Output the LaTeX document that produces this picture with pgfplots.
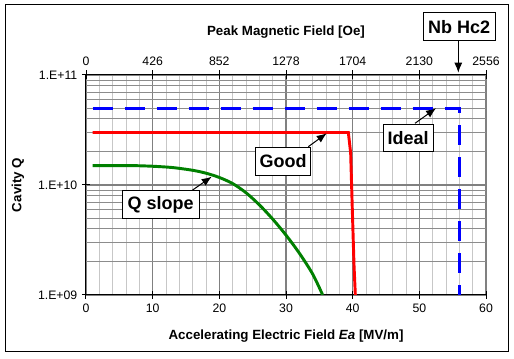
\documentclass[border=0pt]{standalone}
\usepackage{fontspec}
\setmainfont{Liberation Sans}
\usepackage{pgfplots}
\pgfplotsset{compat=1.18}
\usetikzlibrary{arrows.meta}
\begin{document}
\begin{tikzpicture}
\path[use as bounding box] (0,0) rectangle (385.5pt,269.25pt);
\fill[white] (0,0) rectangle (385.5pt,269.25pt);
\draw[line width=0.75pt] (3.75pt,5.25pt) rectangle (381pt,265.5pt);

\begin{axis}[
  at={(64.5pt,48pt)}, anchor=south west,
  scale only axis, width=300pt, height=165pt,
  xmin=0, xmax=60, ymin=1e9, ymax=1e11, ymode=log,
  xtick={0,10,...,60}, minor x tick num=4,
  ytick={1e9,1e10,1e11}, yticklabels={1.E+09,1.E+10,1.E+11},
  grid=both,
  major grid style={color=black!50, line width=0.9pt},
  minor x grid style={color=black!22, line width=0.6pt},
  minor y grid style={color=black!45, line width=0.6pt},
  axis x line*=bottom, axis y line*=left,
  axis line style={-, black, line width=0.75pt},
  tick align=center, major tick length=6pt, minor tick length=0pt,
  tick style={black, line width=0.75pt},
  ticklabel style={font=\fontsize{9.2}{11}\selectfont},
  /pgf/number format/assume math mode=true,
  xlabel={\bfseries Accelerating Electric Field \textit{Ea} [MV/m]},
  xlabel style={at={(axis description cs:0.5,-0.186)}, anchor=center, font=\fontsize{10}{12}\selectfont},
  ylabel={\bfseries Cavity Q},
  ylabel style={at={(axis description cs:-0.17,0.5)}, anchor=center, font=\fontsize{10}{12}\selectfont},
  clip=true,
]
\addplot[blue, line width=2.2pt, dash pattern=on 15pt off 9pt] coordinates {
  (1,5e10) (56,5e10) (56,1e9)
};
\addplot[red, line width=2.2pt] coordinates {
  (1,3e10) (39.35,3e10) (39.5,2.5e10) (39.7,1.95e10) (39.95,5.9e9) (40.2,1.87e9) (40.4,1e9)
};
\addplot[color={rgb,255:red,0;green,128;blue,0}, line width=2.2pt, smooth, tension=0.5] coordinates {
  (1,1.5e10) (4,1.5e10) (7,1.5e10) (10,1.48e10) (13,1.44e10) (16,1.36e10)
  (18,1.28e10) (20,1.17e10) (22,1.03e10) (24,8.5e9) (26,6.6e9) (28,4.9e9)
  (30,3.5e9) (32,2.4e9) (34,1.55e9) (35.5,1e9)
};
\end{axis}

\begin{axis}[
  at={(64.5pt,48pt)}, anchor=south west,
  scale only axis, width=300pt, height=165pt,
  xmin=0, xmax=2556, ymin=1e9, ymax=1e11, ymode=log,
  axis x line*=top, axis y line=none,
  axis line style={-, black, line width=0.75pt},
  xtick={0,426,852,1278,1704,2130,2556},
  xticklabels={0,426,852,1278,1704,2130,2556},
  scaled x ticks=false,
  tick align=center, major tick length=6.75pt, minor tick length=0pt,
  tick style={black, line width=0.75pt},
  ticklabel style={font=\fontsize{9.2}{11}\selectfont},
  /pgf/number format/assume math mode=true,
  xlabel={\bfseries Peak Magnetic Field [Oe]},
  xlabel style={at={(axis description cs:0.5,1.193)}, anchor=center, font=\fontsize{10}{12}\selectfont},
]
\end{axis}

\begin{scope}[x=0.75pt,y=0.75pt]
\tikzset{box/.style={draw=black, fill=white, line width=0.75pt, inner sep=0pt,
  font=\fontsize{13.5}{15}\selectfont\bfseries},
  arr/.style={line width=0.75pt, -{Latex[length=7.5pt,width=6pt]}}}
\draw[arr] (308.3,212.3) -- (326.7,225.7);
\draw[arr] (415,235.7) -- (436,250.7);
\draw[arr] (191.7,168.3) -- (211.7,182.3);
\draw[arr] (458.3,318.3) -- (458.3,286.3);
\node[box, minimum width=41.25pt, minimum height=20.5pt] at (283.2,197.6) {Good};
\node[box, minimum width=37.7pt, minimum height=20pt] at (408.2,220.7) {Ideal};
\node[box, minimum width=57.5pt, minimum height=21.2pt] at (160.7,154.2) {Q slope};
\node[box, minimum width=53.8pt, minimum height=21pt] at (459.2,332.3) {Nb Hc2};
\end{scope}
\end{tikzpicture}
\end{document}
